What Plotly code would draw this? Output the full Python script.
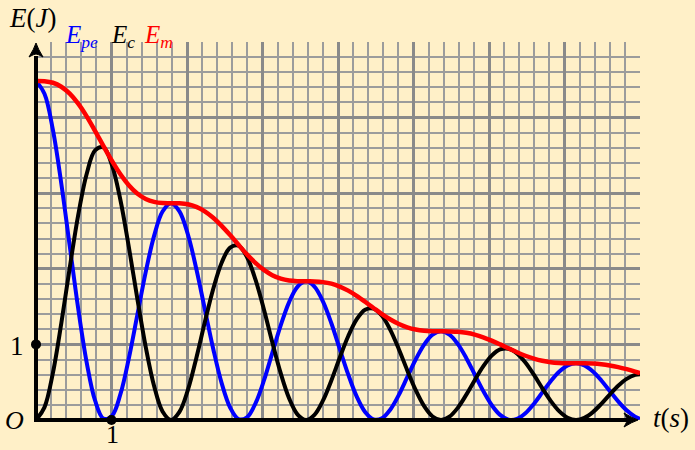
import plotly.graph_objects as go

# Damped oscillator energies (J) sampled over time (s)
t = [0.000, 0.112, 0.224, 0.335, 0.447, 0.559, 0.671, 0.782,
     0.894, 1.006, 1.118, 1.229, 1.341, 1.453, 1.565, 1.676,
     1.788, 1.900, 2.012, 2.123, 2.235, 2.347, 2.459, 2.571,
     2.682, 2.794, 2.906, 3.018, 3.129, 3.241, 3.353, 3.465,
     3.576, 3.688, 3.800, 3.912, 4.023, 4.135, 4.247, 4.359,
     4.470, 4.582, 4.694, 4.806, 4.917, 5.029, 5.141, 5.253,
     5.364, 5.476, 5.588, 5.700, 5.811, 5.923, 6.035, 6.147,
     6.258, 6.370, 6.482, 6.594, 6.705, 6.817, 6.929, 7.041,
     7.152, 7.264, 7.376, 7.488, 7.599, 7.711, 7.823, 7.935, 8.000]

e_pe = [4.485, 4.315, 3.837, 3.129, 2.301, 1.474, 0.763, 0.259,
        0.018, 0.055, 0.341, 0.813, 1.384, 1.956, 2.439, 2.758,
        2.868, 2.760, 2.454, 2.001, 1.471, 0.942, 0.488, 0.165,
        0.012, 0.035, 0.218, 0.520, 0.885, 1.251, 1.560, 1.764,
        1.834, 1.765, 1.569, 1.280, 0.941, 0.603, 0.312, 0.106,
        0.007, 0.022, 0.139, 0.332, 0.566, 0.800, 0.997, 1.128,
        1.173, 1.129, 1.003, 0.818, 0.602, 0.385, 0.199, 0.068,
        0.005, 0.014, 0.089, 0.213, 0.362, 0.512, 0.638, 0.721,
        0.750, 0.722, 0.642, 0.523, 0.385, 0.247, 0.128, 0.043, 0.015]

e_c = [0.000, 0.167, 0.624, 1.279, 2.015, 2.710, 3.254, 3.566,
       3.605, 3.372, 2.910, 2.292, 1.612, 0.968, 0.446, 0.113,
       0.000, 0.107, 0.399, 0.818, 1.289, 1.733, 2.081, 2.280,
       2.305, 2.156, 1.861, 1.466, 1.031, 0.619, 0.286, 0.072,
       0.000, 0.068, 0.255, 0.523, 0.824, 1.108, 1.331, 1.458,
       1.474, 1.379, 1.190, 0.937, 0.659, 0.396, 0.183, 0.046,
       0.000, 0.044, 0.163, 0.335, 0.527, 0.709, 0.851, 0.933,
       0.943, 0.882, 0.761, 0.599, 0.422, 0.253, 0.117, 0.030,
       0.000, 0.028, 0.104, 0.214, 0.337, 0.453, 0.544, 0.596, 0.605]

e_m = [4.485, 4.482, 4.461, 4.408, 4.316, 4.184, 4.016, 3.824,
       3.623, 3.427, 3.250, 3.105, 2.995, 2.924, 2.885, 2.870,
       2.868, 2.866, 2.853, 2.819, 2.760, 2.675, 2.568, 2.446,
       2.317, 2.191, 2.079, 1.985, 1.916, 1.870, 1.845, 1.836,
       1.834, 1.833, 1.824, 1.803, 1.765, 1.711, 1.642, 1.564,
       1.482, 1.401, 1.329, 1.270, 1.225, 1.196, 1.180, 1.174,
       1.173, 1.172, 1.167, 1.153, 1.129, 1.094, 1.050, 1.000,
       0.948, 0.896, 0.850, 0.812, 0.784, 0.765, 0.755, 0.751,
       0.750, 0.750, 0.746, 0.737, 0.722, 0.700, 0.672, 0.640, 0.620]

x_range = [0, 8]
y_range = [0, 5]
tick_x = [1]
tick_y = [1]

W, H = 695, 450
M = dict(l=36, r=55, t=42, b=30)
plot_w = W - M["l"] - M["r"]
plot_h = H - M["t"] - M["b"]

BG = "#FFF0C8"
SERIF = "Liberation Serif, Times New Roman, serif"


def px_x(p):
    """page pixel column -> paper fraction"""
    return (p - M["l"]) / plot_w


def px_y(p):
    """page pixel row -> paper fraction"""
    return (H - M["b"] - p) / plot_h


fig = go.Figure()

for y, color, width in [(e_pe, "#0000FF", 4), (e_c, "#000000", 4), (e_m, "#FF0000", 4.5)]:
    fig.add_trace(go.Scatter(
        x=t, y=y, mode="lines",
        line=dict(color=color, width=width, shape="spline", smoothing=1),
        cliponaxis=False, hoverinfo="skip", showlegend=False,
    ))

# unit marks on the axes
fig.add_trace(go.Scatter(
    x=[0] + tick_x, y=tick_y + [0], mode="markers",
    marker=dict(color="black", size=10),
    cliponaxis=False, hoverinfo="skip", showlegend=False,
))

grid_major = dict(gridcolor="#8a8a8a", gridwidth=3)
minor = dict(dtick=0.2, showgrid=True, gridcolor="#9c9c9c", gridwidth=1.5)

fig.update_xaxes(range=x_range, dtick=1, tick0=0, showgrid=True, **grid_major,
                 minor=minor, showticklabels=False, ticks="", zeroline=False,
                 showline=False, fixedrange=True)
fig.update_yaxes(range=y_range, dtick=1, tick0=0, showgrid=True, **grid_major,
                 minor=minor, showticklabels=False, ticks="", zeroline=False,
                 showline=False, fixedrange=True)

axis_style = dict(color="black", width=4)
shapes = [
    # horizontal axis
    dict(type="line", xref="paper", yref="paper",
         x0=px_x(34), x1=px_x(628), y0=0, y1=0, line=axis_style, layer="above"),
    # vertical axis
    dict(type="line", xref="paper", yref="paper",
         x0=0, x1=0, y0=px_y(422), y1=px_y(56), line=axis_style, layer="above"),
    # arrow heads (pixel offsets, y up)
    dict(type="path", xref="paper", yref="paper", xsizemode="pixel", ysizemode="pixel",
         xanchor=1, yanchor=0,
         path="M -2 0 Q -8 2 -16 7 Q -13 2 -13 0 Q -13 -2 -16 -7 Q -8 -2 -2 0 Z",
         fillcolor="black", line=dict(color="black", width=1), layer="above"),
    dict(type="path", xref="paper", yref="paper", xsizemode="pixel", ysizemode="pixel",
         xanchor=0, yanchor=1,
         path="M 0 -1 Q 2 -7 7 -15 Q 2 -12 0 -12 Q -2 -12 -7 -15 Q -2 -7 0 -1 Z",
         fillcolor="black", line=dict(color="black", width=1), layer="above"),
]

annotations = [
    dict(text="<i>E</i>(<i>J</i>)", x=px_x(32), y=px_y(18), font=dict(size=27)),
    dict(text="<i>t</i>(<i>s</i>)", x=px_x(671), y=px_y(418), font=dict(size=27)),
    dict(text="<i>O</i>", x=px_x(14), y=px_y(421), font=dict(size=26)),
    dict(text="1", x=px_x(17), y=px_y(346), font=dict(size=27)),
    dict(text="1", x=px_x(112), y=px_y(434), font=dict(size=26)),
    dict(text="<i>E<sub>pe</sub></i>", x=px_x(63), y=px_y(37), xanchor="left",
         font=dict(size=25, color="#0000FF")),
    dict(text="<i>E<sub>c</sub></i>", x=px_x(109), y=px_y(37), xanchor="left",
         font=dict(size=25, color="#000000")),
    dict(text="<i>E<sub>m</sub></i>", x=px_x(142), y=px_y(37), xanchor="left",
         font=dict(size=25, color="#FF0000")),
]
for a in annotations:
    a.setdefault("xanchor", "center")
    a.update(xref="paper", yref="paper", showarrow=False, yanchor="middle")
    a["font"].setdefault("color", "black")
    a["font"]["family"] = SERIF

fig.update_layout(
    width=W, height=H,
    margin=dict(**M, pad=0),
    paper_bgcolor=BG, plot_bgcolor=BG,
    shapes=shapes, annotations=annotations,
    showlegend=False,
)

fig.write_html("out.html", config={"displayModeBar": False})
